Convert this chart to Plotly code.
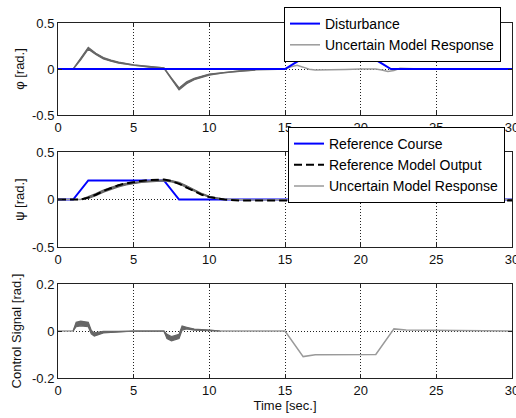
import plotly.graph_objects as go
from plotly.subplots import make_subplots

# ---------------- data ----------------
# Panel 1: roll angle phi
t_dist = [0, 15, 16, 21, 22, 30]
disturbance = [0, 0, 0.1, 0.1, 0, 0]

t_phi = [0, 1, 1.5, 2, 2.5, 3, 3.5, 4, 5, 6, 7, 7.5, 8, 8.5, 9, 10, 11, 12, 13, 14,
         15, 15.4, 15.8, 16.2, 16.6, 17, 18, 19, 20, 21, 21.4, 21.8, 22.2, 22.6, 23, 24, 30]
phi_nom = [0, 0, 0.11, 0.225, 0.165, 0.118, 0.09, 0.07, 0.042, 0.022, 0.01, -0.105, -0.215, -0.15, -0.108, -0.06, -0.037, -0.022, -0.011, -0.005,
           0, 0.025, 0.04, 0.02, -0.003, -0.012, -0.011, -0.005, 0, 0, -0.012, -0.027, -0.017, 0.008, 0.006, 0, 0]
phi_hi = [None, 0, 0.12, 0.235, 0.172, 0.125, 0.096, 0.076, 0.046, 0.025, 0.012, -0.1, -0.205, -0.14, -0.1, -0.055, -0.034, -0.02, -0.01, None,
          None, None, None, None, None, None, None, None, None, None, None, None, None, None, None, None, None]
phi_lo = [None, 0, 0.1, 0.215, 0.158, 0.11, 0.084, 0.064, 0.038, 0.019, 0.008, -0.11, -0.227, -0.16, -0.116, -0.066, -0.041, -0.025, -0.012, None,
          None, None, None, None, None, None, None, None, None, None, None, None, None, None, None, None, None]

# Panel 2: heading angle psi
t_ref = [0, 1, 2, 7, 8, 30]
ref_course = [0, 0, 0.2, 0.2, 0, 0]

t_psi = [0, 1, 1.5, 2, 2.5, 3, 3.5, 4, 4.5, 5, 5.5, 6, 6.5, 7, 7.5, 8, 8.5, 9, 9.5, 10,
         10.5, 11, 12, 13, 15, 20, 25, 30]
ref_model = [0, 0, 0, 0.02, 0.05, 0.09, 0.12, 0.15, 0.17, 0.185, 0.195, 0.205, 0.21, 0.21, 0.195, 0.165, 0.125, 0.085, 0.05, 0.025,
             0.01, 0.0, -0.01, -0.012, -0.01, -0.01, -0.01, -0.01]
psi_nom = [0, 0, 0, 0.02, 0.052, 0.092, 0.122, 0.148, 0.165, 0.178, 0.187, 0.193, 0.199, 0.203, 0.195, 0.175, 0.135, 0.095, 0.058, 0.029,
           0.013, 0.004, -0.002, -0.006, -0.002, 0, -0.006, 0]
psi_hi = [None, None, 0, 0.028, 0.062, 0.1, 0.13, 0.155, 0.17, 0.18, 0.188, 0.195, 0.2, 0.205, 0.2, 0.182, 0.145, 0.103, 0.064, 0.033,
          0.016, 0.006, None, None, None, None, None, None]
psi_lo = [None, None, 0, 0.012, 0.04, 0.078, 0.108, 0.133, 0.153, 0.168, 0.18, 0.186, 0.194, 0.197, 0.186, 0.165, 0.125, 0.086, 0.052, 0.025,
          0.01, 0.002, None, None, None, None, None, None]

# Panel 3: control signal
t_u = [0, 1, 1.2, 1.5, 2, 2.2, 2.4, 3, 4, 5, 7, 7.2, 7.5, 8, 8.2, 8.5, 9, 10, 10.7,
       15, 16.2, 17, 21, 22.2, 23, 30]
u_nom = [0, 0, 0.028, 0.033, 0.028, -0.005, -0.015, -0.005, -0.003, 0, 0, -0.022, -0.032, -0.022, 0.012, 0.012, 0.006, 0.003, 0,
         0, -0.109, -0.101, -0.1, 0.009, 0.004, 0]
u_hi = [None, 0, 0.037, 0.042, 0.037, 0.002, -0.008, -0.002, -0.002, 0, 0, -0.014, -0.024, -0.014, 0.021, 0.016, 0.008, 0.004, 0,
        None, None, None, None, None, None, None]
u_lo = [None, 0, 0.018, 0.022, 0.018, -0.012, -0.022, -0.008, -0.004, 0, 0, -0.032, -0.042, -0.032, 0.004, 0.009, 0.004, 0.002, 0,
        None, None, None, None, None, None, None]

x_ticks = [0, 5, 10, 15, 20, 25, 30]

# ---------------- figure ----------------
W, H = 516, 418
L, R, T, B = 58, 4, 23, 40
plot_w = W - L - R
plot_h = H - T - B
FONT = "Liberation Sans, Arial, sans-serif"
FS = 13
LFS = 14

def dom(top_px, bot_px):
    return [(H - B - bot_px) / plot_h, (H - B - top_px) / plot_h]

def band(t, hi, lo):
    """Build closed polygons (one per contiguous segment) between hi and lo."""
    xs, ys = [], []
    seg = []
    for i in range(len(t) + 1):
        if i < len(t) and hi[i] is not None and lo[i] is not None:
            seg.append(i)
        else:
            if len(seg) > 1:
                xs += [t[k] for k in seg] + [t[k] for k in reversed(seg)] + [None]
                ys += [hi[k] for k in seg] + [lo[k] for k in reversed(seg)] + [None]
            seg = []
    return xs, ys

fig = make_subplots(rows=3, cols=1)

BLUE = "#0000ff"
GRAY = "#9a9a9a"
DARK = "#666666"

def add_band(t, hi, lo, row):
    bx, by = band(t, hi, lo)
    fig.add_trace(go.Scatter(x=bx, y=by, mode="lines", fill="toself", fillcolor=DARK,
                             showlegend=False, hoverinfo="skip",
                             line=dict(color=DARK, width=1.2)), row=row, col=1)

# panel 1
fig.add_trace(go.Scatter(x=t_phi, y=phi_nom, mode="lines", name="Uncertain Model Response",
                         line=dict(color=GRAY, width=1.5), legend="legend", legendrank=2), row=1, col=1)
add_band(t_phi, phi_hi, phi_lo, 1)
fig.add_trace(go.Scatter(x=t_dist, y=disturbance, mode="lines", name="Disturbance",
                         line=dict(color=BLUE, width=2), legend="legend", legendrank=1), row=1, col=1)

# panel 2
fig.add_trace(go.Scatter(x=t_ref, y=ref_course, mode="lines", name="Reference Course",
                         line=dict(color=BLUE, width=2), legend="legend2", legendrank=1), row=2, col=1)
fig.add_trace(go.Scatter(x=t_psi, y=psi_nom, mode="lines", name="Uncertain Model Response",
                         line=dict(color=GRAY, width=1.5), legend="legend2", legendrank=3), row=2, col=1)
add_band(t_psi, psi_hi, psi_lo, 2)
fig.add_trace(go.Scatter(x=t_psi, y=ref_model, mode="lines", name="Reference Model Output",
                         line=dict(color="black", width=2, dash="8px,4px"), legend="legend2", legendrank=2), row=2, col=1)

# panel 3
fig.add_trace(go.Scatter(x=t_u, y=u_nom, mode="lines", showlegend=False,
                         line=dict(color=GRAY, width=1.5)), row=3, col=1)
add_band(t_u, u_hi, u_lo, 3)

axis_common = dict(showline=True, linecolor="#222", linewidth=1, mirror="ticks",
                   ticks="inside", ticklen=4, tickcolor="#222",
                   showgrid=True, gridcolor="#222", griddash="1px,2px", gridwidth=1,
                   zeroline=False, tickfont=dict(size=FS, color="#111"), automargin=False)

doms = [dom(23, 115), dom(152, 247), dom(284, 378)]
yranges = [[-0.5, 0.5], [-0.5, 0.5], [-0.2, 0.2]]
yticks = [[-0.5, 0, 0.5], [-0.5, 0, 0.5], [-0.2, 0, 0.2]]
yticktext = [["-0.5", "0", "0.5"], ["-0.5", "0", "0.5"], ["-0.2", "0", "0.2"]]
ytitles = ["φ [rad.]", "ψ [rad.]", "Control Signal [rad.]"]
ystand = [4, 4, 7]

for i in range(3):
    xa = "xaxis" if i == 0 else f"xaxis{i+1}"
    ya = "yaxis" if i == 0 else f"yaxis{i+1}"
    fig.layout[xa].update(domain=[0, 1], range=[0, 30], tickvals=x_ticks,
                          ticktext=[str(v) for v in x_ticks], ticklabeloverflow="allow",
                          **axis_common)
    fig.layout[ya].update(domain=doms[i], range=yranges[i], tickvals=yticks[i],
                          ticktext=yticktext[i],
                          title=dict(text=ytitles[i], font=dict(size=FS, color="#111"), standoff=ystand[i]),
                          **axis_common)

fig.layout.xaxis3.title = dict(text="Time [sec.]", font=dict(size=FS, color="#111"), standoff=3)

leg_common = dict(bgcolor="white", bordercolor="black", borderwidth=1,
                  font=dict(size=LFS, color="black", family=FONT),
                  xanchor="left", yanchor="top", tracegroupgap=0,
                  itemwidth=30, traceorder="normal",
                  xref="container", yref="container")

fig.update_layout(
    width=W, height=H,
    margin=dict(l=L, r=R, t=T, b=B, autoexpand=False),
    paper_bgcolor="white", plot_bgcolor="white",
    font=dict(family=FONT, size=FS, color="#111"),
    legend=dict(x=284 / W, y=1 - 7 / H, **leg_common),
    legend2=dict(x=288 / W, y=1 - 127 / H, **leg_common),
)

fig.write_html("out.html", config={"displayModeBar": False},
               post_script="document.body.style.margin='0';document.body.style.overflow='hidden';")
